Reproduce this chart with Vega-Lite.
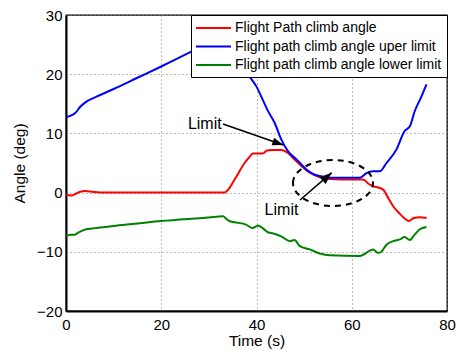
{
  "$schema": "https://vega.github.io/schema/vega-lite/v6.json",
  "autosize": {"type": "none"},
  "padding": {"left": 66, "top": 15, "right": 10, "bottom": 40},
  "width": 381,
  "height": 296,
  "config": {
    "font": "Liberation Sans",
    "view": {"stroke": "black", "strokeWidth": 1.3},
    "axis": {
      "labelFont": "Liberation Sans",
      "labelFontSize": 15,
      "labelColor": "black",
      "labelFlush": false,
      "labelOverlap": false,
      "titleFont": "Liberation Sans",
      "titleFontSize": 15.5,
      "titleFontWeight": "normal",
      "titleColor": "black",
      "domainColor": "black",
      "domainWidth": 2,
      "ticks": false,
      "grid": true,
      "gridColor": "#777777",
      "gridDash": [1, 3],
      "gridWidth": 1,
      "gridOpacity": 1
    },
    "legend": {
      "orient": "top-right",
      "offset": 0,
      "strokeColor": "black",
      "fillColor": "white",
      "padding": 5,
      "labelFont": "Liberation Sans",
      "labelFontSize": 14,
      "labelColor": "black",
      "labelLimit": 400,
      "symbolType": "M-1,0L4,0",
      "symbolStrokeWidth": 2,
      "symbolSize": 196,
      "symbolOffset": -1,
      "labelOffset": 24,
      "rowPadding": 3.5,
      "title": null
    }
  },
  "layer": [
    {
      "data": {
        "values": [
          {"t": 0, "a": -0.2, "s": "Flight Path climb angle"},
          {"t": 0.6, "a": -0.45, "s": "Flight Path climb angle"},
          {"t": 1.2, "a": -0.5, "s": "Flight Path climb angle"},
          {"t": 2, "a": -0.2, "s": "Flight Path climb angle"},
          {"t": 3, "a": 0.15, "s": "Flight Path climb angle"},
          {"t": 4, "a": 0.25, "s": "Flight Path climb angle"},
          {"t": 5, "a": 0.2, "s": "Flight Path climb angle"},
          {"t": 6, "a": 0.1, "s": "Flight Path climb angle"},
          {"t": 8, "a": 0.0, "s": "Flight Path climb angle"},
          {"t": 20, "a": 0.0, "s": "Flight Path climb angle"},
          {"t": 33.2, "a": 0.0, "s": "Flight Path climb angle"},
          {"t": 33.8, "a": 0.3, "s": "Flight Path climb angle"},
          {"t": 35.4, "a": 2.2, "s": "Flight Path climb angle"},
          {"t": 37.5, "a": 5.0, "s": "Flight Path climb angle"},
          {"t": 38.5, "a": 6.0, "s": "Flight Path climb angle"},
          {"t": 39.2, "a": 6.6, "s": "Flight Path climb angle"},
          {"t": 40.5, "a": 6.6, "s": "Flight Path climb angle"},
          {"t": 41.3, "a": 6.6, "s": "Flight Path climb angle"},
          {"t": 42.2, "a": 7.1, "s": "Flight Path climb angle"},
          {"t": 43.1, "a": 7.2, "s": "Flight Path climb angle"},
          {"t": 45.2, "a": 7.2, "s": "Flight Path climb angle"},
          {"t": 46.6, "a": 6.7, "s": "Flight Path climb angle"},
          {"t": 47.6, "a": 5.9, "s": "Flight Path climb angle"},
          {"t": 49.1, "a": 4.75, "s": "Flight Path climb angle"},
          {"t": 51.2, "a": 3.35, "s": "Flight Path climb angle"},
          {"t": 53.3, "a": 2.6, "s": "Flight Path climb angle"},
          {"t": 55.4, "a": 2.3, "s": "Flight Path climb angle"},
          {"t": 60, "a": 2.2, "s": "Flight Path climb angle"},
          {"t": 62.4, "a": 2.2, "s": "Flight Path climb angle"},
          {"t": 63.5, "a": 1.5, "s": "Flight Path climb angle"},
          {"t": 64.5, "a": 1.1, "s": "Flight Path climb angle"},
          {"t": 66.6, "a": 0.5, "s": "Flight Path climb angle"},
          {"t": 67.5, "a": -0.7, "s": "Flight Path climb angle"},
          {"t": 68.7, "a": -2.3, "s": "Flight Path climb angle"},
          {"t": 70, "a": -3.5, "s": "Flight Path climb angle"},
          {"t": 71.5, "a": -4.6, "s": "Flight Path climb angle"},
          {"t": 72, "a": -4.8, "s": "Flight Path climb angle"},
          {"t": 73, "a": -4.3, "s": "Flight Path climb angle"},
          {"t": 74.3, "a": -4.15, "s": "Flight Path climb angle"},
          {"t": 75.7, "a": -4.3, "s": "Flight Path climb angle"},

          {"t": 0, "a": 12.7, "s": "Flight path climb angle uper limit"},
          {"t": 1, "a": 13.0, "s": "Flight path climb angle uper limit"},
          {"t": 2, "a": 13.5, "s": "Flight path climb angle uper limit"},
          {"t": 3, "a": 14.5, "s": "Flight path climb angle uper limit"},
          {"t": 4, "a": 15.2, "s": "Flight path climb angle uper limit"},
          {"t": 6.4, "a": 16.2, "s": "Flight path climb angle uper limit"},
          {"t": 10, "a": 17.5, "s": "Flight path climb angle uper limit"},
          {"t": 15, "a": 19.4, "s": "Flight path climb angle uper limit"},
          {"t": 20, "a": 21.3, "s": "Flight path climb angle uper limit"},
          {"t": 26.3, "a": 23.8, "s": "Flight path climb angle uper limit"},
          {"t": 30, "a": 25.3, "s": "Flight path climb angle uper limit"},
          {"t": 33.5, "a": 26.6, "s": "Flight path climb angle uper limit"},
          {"t": 35.5, "a": 24.5, "s": "Flight path climb angle uper limit"},
          {"t": 37, "a": 22.0, "s": "Flight path climb angle uper limit"},
          {"t": 38.5, "a": 19.7, "s": "Flight path climb angle uper limit"},
          {"t": 40, "a": 17.9, "s": "Flight path climb angle uper limit"},
          {"t": 41.3, "a": 15.7, "s": "Flight path climb angle uper limit"},
          {"t": 42.4, "a": 13.8, "s": "Flight path climb angle uper limit"},
          {"t": 43.8, "a": 11.8, "s": "Flight path climb angle uper limit"},
          {"t": 45.2, "a": 9.0, "s": "Flight path climb angle uper limit"},
          {"t": 46.6, "a": 7.0, "s": "Flight path climb angle uper limit"},
          {"t": 48.4, "a": 5.6, "s": "Flight path climb angle uper limit"},
          {"t": 50.5, "a": 3.9, "s": "Flight path climb angle uper limit"},
          {"t": 52, "a": 3.1, "s": "Flight path climb angle uper limit"},
          {"t": 53.3, "a": 2.8, "s": "Flight path climb angle uper limit"},
          {"t": 55.4, "a": 2.5, "s": "Flight path climb angle uper limit"},
          {"t": 58, "a": 2.5, "s": "Flight path climb angle uper limit"},
          {"t": 61.7, "a": 2.5, "s": "Flight path climb angle uper limit"},
          {"t": 63.1, "a": 3.3, "s": "Flight path climb angle uper limit"},
          {"t": 64.5, "a": 3.6, "s": "Flight path climb angle uper limit"},
          {"t": 65.9, "a": 3.6, "s": "Flight path climb angle uper limit"},
          {"t": 67.3, "a": 5.0, "s": "Flight path climb angle uper limit"},
          {"t": 69.4, "a": 7.3, "s": "Flight path climb angle uper limit"},
          {"t": 71.1, "a": 10.4, "s": "Flight path climb angle uper limit"},
          {"t": 72.2, "a": 11.2, "s": "Flight path climb angle uper limit"},
          {"t": 73.2, "a": 13.7, "s": "Flight path climb angle uper limit"},
          {"t": 74.5, "a": 16.0, "s": "Flight path climb angle uper limit"},
          {"t": 75.7, "a": 18.3, "s": "Flight path climb angle uper limit"},

          {"t": 0, "a": -7.35, "s": "Flight path climb angle lower limit"},
          {"t": 1, "a": -7.1, "s": "Flight path climb angle lower limit"},
          {"t": 1.8, "a": -7.1, "s": "Flight path climb angle lower limit"},
          {"t": 2.5, "a": -6.8, "s": "Flight path climb angle lower limit"},
          {"t": 4.2, "a": -6.2, "s": "Flight path climb angle lower limit"},
          {"t": 6, "a": -6.0, "s": "Flight path climb angle lower limit"},
          {"t": 10, "a": -5.65, "s": "Flight path climb angle lower limit"},
          {"t": 20, "a": -4.8, "s": "Flight path climb angle lower limit"},
          {"t": 30, "a": -4.2, "s": "Flight path climb angle lower limit"},
          {"t": 33, "a": -4.0, "s": "Flight path climb angle lower limit"},
          {"t": 33.6, "a": -4.4, "s": "Flight path climb angle lower limit"},
          {"t": 34.3, "a": -4.8, "s": "Flight path climb angle lower limit"},
          {"t": 35.4, "a": -5.0, "s": "Flight path climb angle lower limit"},
          {"t": 37.8, "a": -5.4, "s": "Flight path climb angle lower limit"},
          {"t": 39.2, "a": -6.0, "s": "Flight path climb angle lower limit"},
          {"t": 40.3, "a": -5.55, "s": "Flight path climb angle lower limit"},
          {"t": 41.3, "a": -6.0, "s": "Flight path climb angle lower limit"},
          {"t": 42.4, "a": -6.7, "s": "Flight path climb angle lower limit"},
          {"t": 43.5, "a": -6.9, "s": "Flight path climb angle lower limit"},
          {"t": 45.2, "a": -7.4, "s": "Flight path climb angle lower limit"},
          {"t": 47, "a": -8.2, "s": "Flight path climb angle lower limit"},
          {"t": 48, "a": -8.0, "s": "Flight path climb angle lower limit"},
          {"t": 49.1, "a": -9.05, "s": "Flight path climb angle lower limit"},
          {"t": 51.2, "a": -9.6, "s": "Flight path climb angle lower limit"},
          {"t": 53.3, "a": -10.3, "s": "Flight path climb angle lower limit"},
          {"t": 55.4, "a": -10.6, "s": "Flight path climb angle lower limit"},
          {"t": 61.7, "a": -10.7, "s": "Flight path climb angle lower limit"},
          {"t": 63.8, "a": -9.8, "s": "Flight path climb angle lower limit"},
          {"t": 64.5, "a": -9.6, "s": "Flight path climb angle lower limit"},
          {"t": 65.5, "a": -10.2, "s": "Flight path climb angle lower limit"},
          {"t": 66.2, "a": -10.0, "s": "Flight path climb angle lower limit"},
          {"t": 67.3, "a": -8.8, "s": "Flight path climb angle lower limit"},
          {"t": 68.7, "a": -8.2, "s": "Flight path climb angle lower limit"},
          {"t": 70.1, "a": -7.9, "s": "Flight path climb angle lower limit"},
          {"t": 71.1, "a": -7.5, "s": "Flight path climb angle lower limit"},
          {"t": 72.2, "a": -8.0, "s": "Flight path climb angle lower limit"},
          {"t": 73.2, "a": -7.1, "s": "Flight path climb angle lower limit"},
          {"t": 74.3, "a": -6.2, "s": "Flight path climb angle lower limit"},
          {"t": 75.7, "a": -5.8, "s": "Flight path climb angle lower limit"}
        ]
      },
      "mark": {"type": "line", "strokeWidth": 2, "interpolate": "monotone"},
      "encoding": {
        "x": {"field": "t", "type": "quantitative", "title": "Time (s)", "scale": {"domain": [0, 80], "nice": false, "zero": false}, "axis": {"values": [0, 20, 40, 60, 80], "labelPadding": 6, "titlePadding": 1}},
        "y": {"field": "a", "type": "quantitative", "title": "Angle (deg)", "scale": {"domain": [-20, 30], "nice": false, "zero": false}, "axis": {"values": [-20, -10, 0, 10, 20, 30], "labelPadding": 4, "titlePadding": 9}},
        "color": {
          "field": "s", "type": "nominal",
          "scale": {"domain": ["Flight Path climb angle", "Flight path climb angle uper limit", "Flight path climb angle lower limit"], "range": ["#ff0000", "#0000ff", "#008000"]},
          "sort": null
        },
        "order": {"field": "t", "type": "quantitative"}
      }
    },
    {
      "data": {"values": [
        {"t": 32.97, "a": 11.59, "t2": 45.63, "a2": 8.04},
        {"t": 49.13, "a": -1.25, "t2": 55.79, "a2": 3.36}
      ]},
      "mark": {"type": "rule", "color": "black", "strokeWidth": 1.6},
      "encoding": {
        "x": {"field": "t", "type": "quantitative", "title": "Time (s)"},
        "y": {"field": "a", "type": "quantitative", "title": "Angle (deg)"},
        "x2": {"field": "t2"},
        "y2": {"field": "a2"}
      }
    },
    {
      "data": {"values": [{"t": 45.63, "a": 8.04}]},
      "mark": {"type": "point", "shape": "M0,0L-0.4,1.1L0.4,1.1Z", "size": 400, "angle": 109, "filled": true, "color": "black", "opacity": 1},
      "encoding": {
        "x": {"field": "t", "type": "quantitative", "title": "Time (s)"},
        "y": {"field": "a", "type": "quantitative", "title": "Angle (deg)"}
      }
    },
    {
      "data": {"values": [{"t": 55.79, "a": 3.36}]},
      "mark": {"type": "point", "shape": "M0,0L-0.45,1.2L0.45,1.2Z", "size": 400, "angle": 49, "filled": true, "color": "black", "opacity": 1},
      "encoding": {
        "x": {"field": "t", "type": "quantitative", "title": "Time (s)"},
        "y": {"field": "a", "type": "quantitative", "title": "Angle (deg)"}
      }
    },
    {
      "data": {"values": [{"t": 56.06, "a": 1.62}]},
      "mark": {"type": "point", "shape": "M-1,0A1,0.575,0,1,1,1,0A1,0.575,0,1,1,-1,0Z", "size": 6400, "filled": false, "stroke": "black", "strokeWidth": 2, "strokeDash": [6, 5], "opacity": 1},
      "encoding": {
        "x": {"field": "t", "type": "quantitative", "title": "Time (s)"},
        "y": {"field": "a", "type": "quantitative", "title": "Angle (deg)"}
      }
    },
    {
      "data": {"values": [
        {"t": 25.6, "a": 11.67, "label": "Limit"},
        {"t": 41.7, "a": -3.02, "label": "Limit"}
      ]},
      "mark": {"type": "text", "align": "left", "baseline": "middle", "font": "Liberation Sans", "fontSize": 16, "color": "black"},
      "encoding": {
        "x": {"field": "t", "type": "quantitative", "title": "Time (s)"},
        "y": {"field": "a", "type": "quantitative", "title": "Angle (deg)"},
        "text": {"field": "label"}
      }
    }
  ]
}
